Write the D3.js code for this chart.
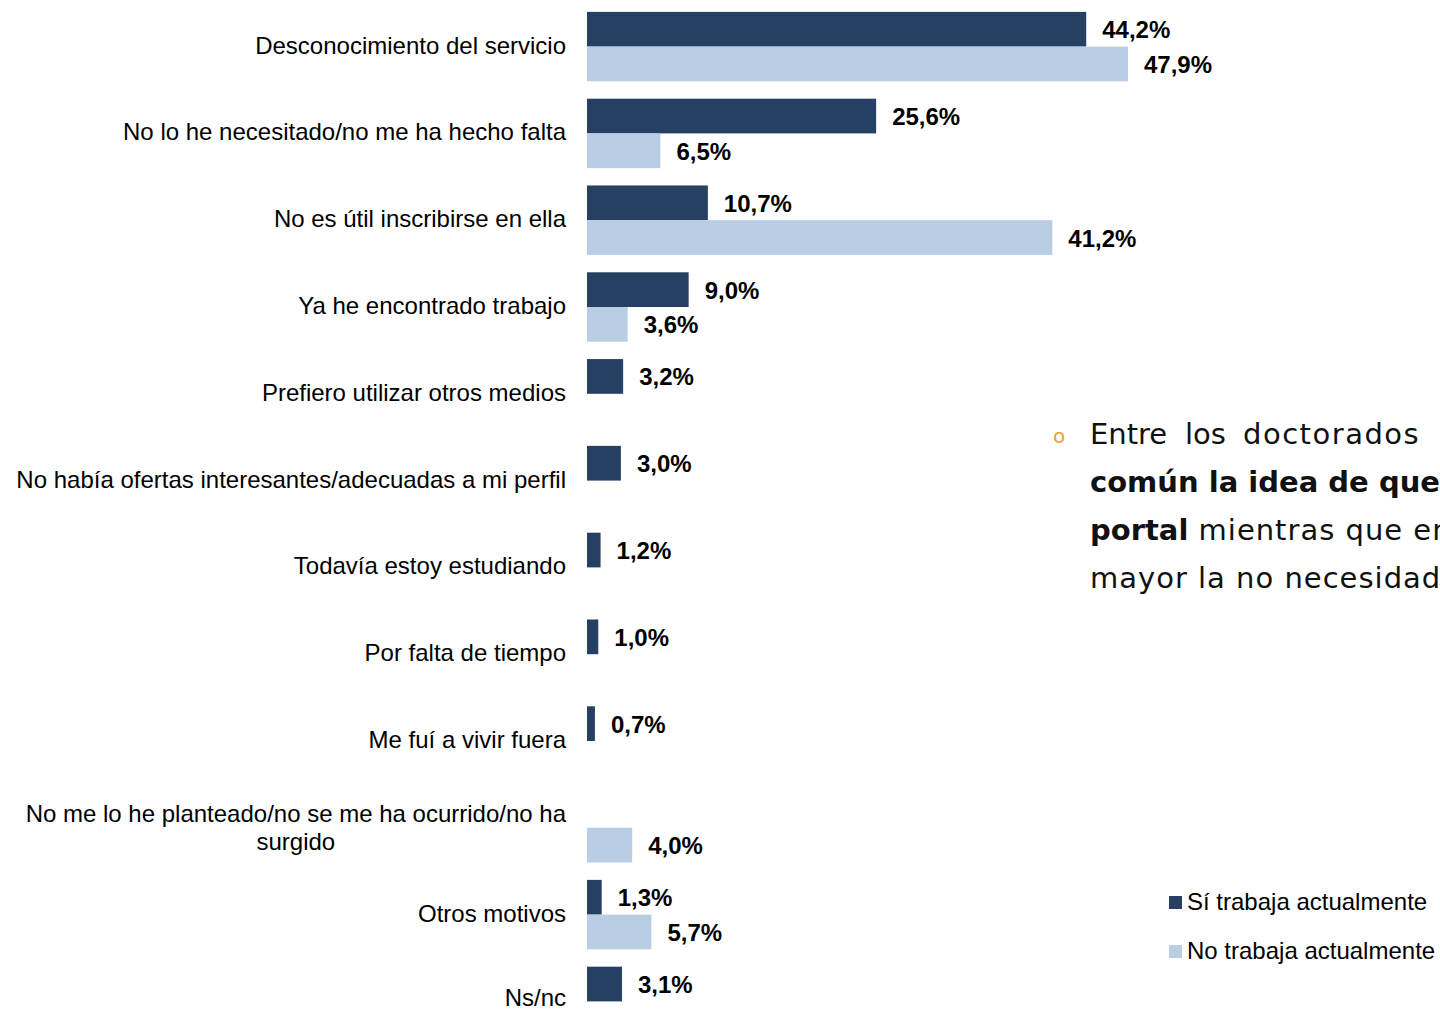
<!DOCTYPE html>
<html><head><meta charset="utf-8">
<script src="https://cdn.jsdelivr.net/npm/d3@7"></script>
<style>html,body{margin:0;padding:0;background:#fff;overflow:hidden}</style>
</head><body>
<svg id="chart" width="1440" height="1011"></svg>
<script>
const categories = [
  "Desconocimiento del servicio",
  "No lo he necesitado/no me ha hecho falta",
  "No es útil inscribirse en ella",
  "Ya he encontrado trabajo",
  "Prefiero utilizar otros medios",
  "No había ofertas interesantes/adecuadas a mi perfil",
  "Todavía estoy estudiando",
  "Por falta de tiempo",
  "Me fuí a vivir fuera",
  "No me lo he planteado/no se me ha ocurrido/no ha surgido",
  "Otros motivos",
  "Ns/nc"
];
const seriesNames = ["Sí trabaja actualmente", "No trabaja actualmente"];
const siTrabaja = [44.2, 25.6, 10.7, 9.0, 3.2, 3.0, 1.2, 1.0, 0.7, null, 1.3, 3.1];
const noTrabaja = [47.9, 6.5, 41.2, 3.6, null, null, null, null, null, 4.0, 5.7, null];
const wrappedLabel = ["No me lo he planteado/no se me ha ocurrido/no ha", "surgido"];
const noteLines = [
  [{t:"Entre", b:false}, {t:"los", b:false}, {t:"doctorados", b:false}],
  [{t:"común la idea de que", b:true}],
  [{t:"portal", b:true}, {t:" mientras que en", b:false}],
  [{t:"mayor la no necesidad", b:false}]
];

const colors = ["#264063", "#B9CDE5"];
const svg = d3.select("#chart");
const font = "'Liberation Sans', Arial, sans-serif";
const fs = 24;

const x = d3.scaleLinear().domain([0, 47.9]).range([587, 1128]);
const y0 = d3.scaleBand().domain(categories).range([3.2, 3.2 + 12 * 86.8]).paddingInner(0.2).paddingOuter(0.1);
const y1 = d3.scaleBand().domain(seriesNames).range([0, y0.bandwidth()]);

const data = [];
categories.forEach((c, i) => {
  [siTrabaja[i], noTrabaja[i]].forEach((v, s) => {
    if (v != null) data.push({c, s: seriesNames[s], si: s, v});
  });
});

const g = svg.append("g");
g.selectAll("rect.bar").data(data).enter().append("rect")
  .attr("class", "bar")
  .attr("x", x(0))
  .attr("y", d => y0(d.c) + y1(d.s))
  .attr("width", d => x(d.v) - x(0))
  .attr("height", y1.bandwidth())
  .attr("fill", d => colors[d.si]);

g.selectAll("text.val").data(data).enter().append("text")
  .attr("class", "val")
  .attr("x", d => x(d.v) + 16)
  .attr("y", d => y0(d.c) + y1(d.s) + y1.bandwidth() / 2 + 9)
  .attr("font-family", font).attr("font-size", fs).attr("font-weight", "bold")
  .attr("fill", "#000")
  .text(d => d.v.toFixed(1).replace(".", ",") + "%");

// category labels
categories.forEach((c, i) => {
  const cy = y0(c) + y0.bandwidth() / 2;
  if (i === 9) {
    const t1 = g.append("text").attr("font-family", font).attr("font-size", fs)
      .attr("text-anchor", "end").attr("x", 566).attr("y", cy - 6).text(wrappedLabel[0]);
    const w = t1.node().getComputedTextLength();
    t1.attr("text-anchor", "middle").attr("x", 566 - w / 2);
    g.append("text").attr("font-family", font).attr("font-size", fs)
      .attr("text-anchor", "middle").attr("x", 566 - w / 2).attr("y", cy + 22).text(wrappedLabel[1]);
  } else {
    g.append("text").attr("font-family", font).attr("font-size", fs)
      .attr("text-anchor", "end").attr("x", 566).attr("y", cy + (i === 11 ? 5 : 7)).text(c);
  }
});

// legend
seriesNames.forEach((s, i) => {
  const ly = 902 + i * 49;
  svg.append("rect").attr("x", 1169).attr("y", ly - 6).attr("width", 13).attr("height", 13).attr("fill", colors[i]);
  svg.append("text").attr("x", 1187).attr("y", ly + 8).attr("font-family", font).attr("font-size", fs)
    .attr("fill", "#000").text(s);
});

// note text
const noteFont = "'URW Gothic', 'Century Gothic', 'DejaVu Sans', sans-serif";
svg.append("text").attr("x", 1053).attr("y", 443).attr("font-family", noteFont).attr("font-size", 20)
  .attr("fill", "#E8A33A").text("o");
const wordX = [1090, 1185, 1243];
noteLines.forEach((line, li) => {
  const t = svg.append("text").attr("y", 444 + li * 48).attr("font-family", noteFont)
    .attr("font-size", 29).attr("fill", "#111");
  if (li === 0) {
    line.forEach((w, wi) => t.append("tspan").attr("x", wordX[wi]).attr("letter-spacing", wi === 2 ? 1.5 : 0).text(w.t));
  } else {
    t.attr("x", 1090);
    line.forEach(w => t.append("tspan").attr("font-weight", w.b ? "bold" : "normal")
      .attr("letter-spacing", w.b ? 0 : 1).text(w.t));
  }
});
</script>
</body></html>
